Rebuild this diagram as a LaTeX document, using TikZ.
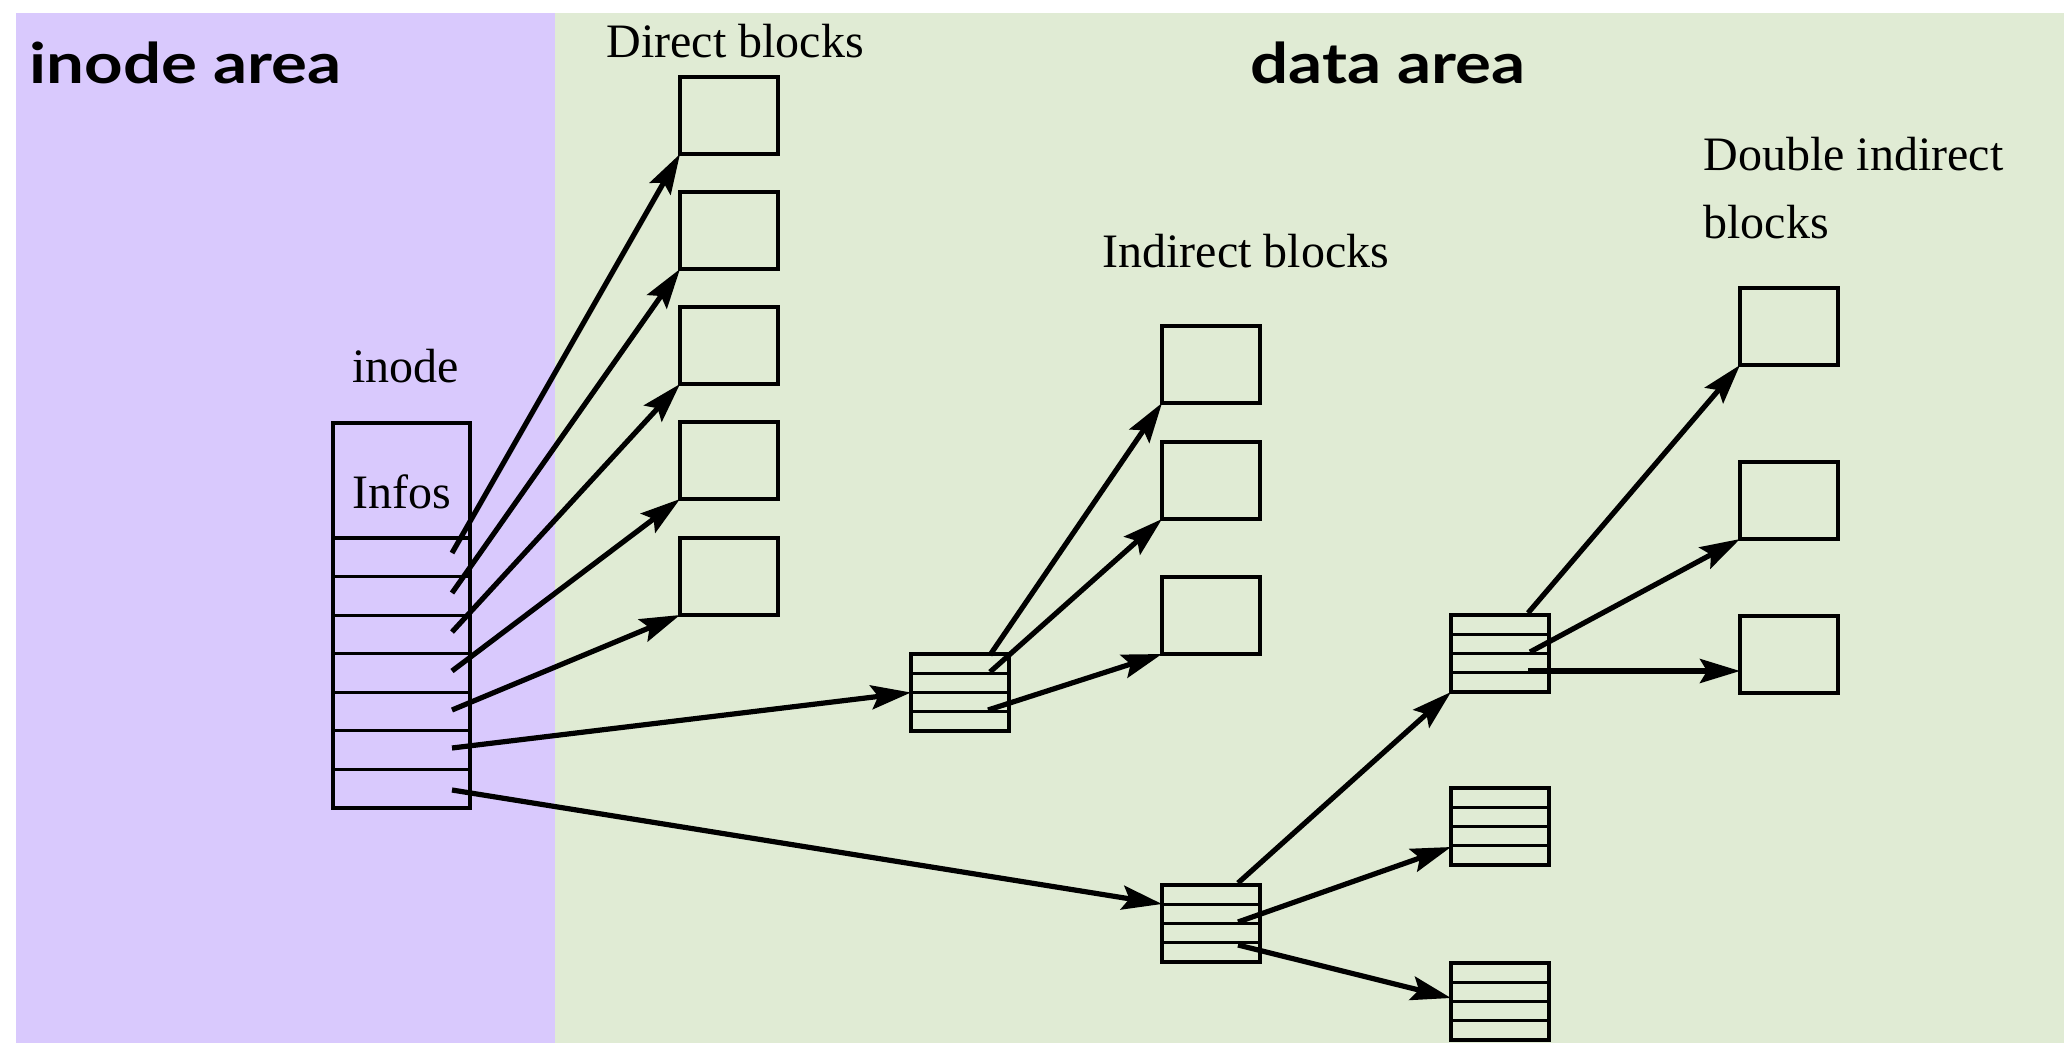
\documentclass[tikz,border=0pt]{standalone}
\usepackage{fontspec}
\setmainfont{Liberation Serif}
\newfontfamily\areafont{Lato}[FakeStretch=1.2]
\usetikzlibrary{arrows.meta,calc}

\definecolor{inodebg}{RGB}{217,201,253}
\definecolor{databg}{RGB}{224,235,212}

\tikzset{
  blk/.style={draw=black, line width=1.6pt, minimum width=49pt, minimum height=38.5pt,
    inner sep=0pt, outer sep=0pt, anchor=north west},
  tbl/.style={blk},
  ptr/.style={line width=2.6pt, -{Stealth[length=20pt,width=12pt,inset=3.5pt]}},
  lbl/.style={anchor=base west, inner sep=0pt, font=\fontsize{24}{33.5}\selectfont},
  area/.style={anchor=base west, inner sep=0pt, font=\areafont\bfseries\fontsize{28}{30}\selectfont}
}

\begin{document}
\begin{tikzpicture}[x=0.5pt,y=-0.5pt]
\useasboundingbox (0,0) rectangle (2064,1043);

% background areas
\fill[inodebg] (16,13) rectangle (555,1043);
\fill[databg] (555,13) rectangle (2064,1043);

\node[area] (tinode) at (29,84) {inode area};
\node[area] (tdata) at (1250,84) {data area};

% labels
\node[lbl] (ldirect) at (606,58) {Direct blocks};
\node[lbl] (lindirect) at (1102,267) {Indirect blocks};
\node[lbl] (ldouble) at (1703,171) {Double indirect};
\node[lbl] (ldouble2) at (1703,238) {blocks};
\node[lbl] (linode) at (352,382) {inode};

% inode table: info field followed by seven pointer slots
\node[draw=black, line width=1.6pt, minimum width=68.5pt, minimum height=192.5pt,
  inner sep=0pt, outer sep=0pt, anchor=north west] (inode) at (333,423) {};
\node[lbl] (linfos) at (352,508) {Infos};
\foreach \k in {0,...,6}
  \draw[line width=1.6pt] (333,{538+\k*38.57}) -- (470,{538+\k*38.57});

% direct blocks
\node[blk] (D1) at (680,77) {};
\node[blk] (D2) at (680,192) {};
\node[blk] (D3) at (680,307) {};
\node[blk] (D4) at (680,422) {};
\node[blk] (D5) at (680,538) {};

% indirect data blocks
\node[blk] (I1) at (1162,326) {};
\node[blk] (I2) at (1162,442) {};
\node[blk] (I3) at (1162,577) {};

% double indirect data blocks
\node[blk] (B1) at (1740,288) {};
\node[blk] (B2) at (1740,462) {};
\node[blk] (B3) at (1740,616) {};

% pointer tables
\node[tbl] (T1) at (911,654) {};
\node[tbl] (T2) at (1162,885) {};
\node[tbl] (T3) at (1451,615) {};
\node[tbl] (T4) at (1451,788) {};
\node[tbl] (T5) at (1451,963) {};
\foreach \t in {T1,T2,T3,T4,T5}
  \foreach \k in {1,2,3}
    \draw[line width=1.6pt] ($(\t.north west)!\k/4!(\t.south west)$) -- ($(\t.north east)!\k/4!(\t.south east)$);

% pointer origins
\coordinate (s1) at (452,553);
\coordinate (s2) at (452,593);
\coordinate (s3) at (452,632);
\coordinate (s4) at (452,671);
\coordinate (s5) at (452,710);
\coordinate (s6) at (452,748);
\coordinate (s7) at (452,790);
\coordinate (a1) at (990,655);
\coordinate (a2) at (990,672);
\coordinate (a3) at (988,710);
\coordinate (b1) at (1238,883);
\coordinate (b2) at (1238,922);
\coordinate (b3) at (1238,945);
\coordinate (c1) at (1528,613);
\coordinate (c2) at (1530,652);
\coordinate (c3) at (1528,671);
\coordinate (e4) at (1451,847);
\coordinate (e5) at (1451,998);
\coordinate (e6) at (1740,671);
\coordinate (e7) at (1162,904);

% pointers
\draw[ptr] (s1) -- (D1.south west);
\draw[ptr] (s2) -- (D2.south west);
\draw[ptr] (s3) -- (D3.south west);
\draw[ptr] (s4) -- (D4.south west);
\draw[ptr] (s5) -- (D5.south west);
\draw[ptr] (s6) -- (T1.west);
\draw[ptr] (s7) -- (e7);
\draw[ptr] (a1) -- (I1.south west);
\draw[ptr] (a2) -- (I2.south west);
\draw[ptr] (a3) -- (I3.south west);
\draw[ptr] (b1) -- (T3.south west);
\draw[ptr] (b2) -- (e4);
\draw[ptr] (b3) -- (e5);
\draw[ptr] (c1) -- (B1.south west);
\draw[ptr] (c2) -- (B2.south west);
\draw[ptr] (c3) -- (e6);
\end{tikzpicture}
\end{document}
